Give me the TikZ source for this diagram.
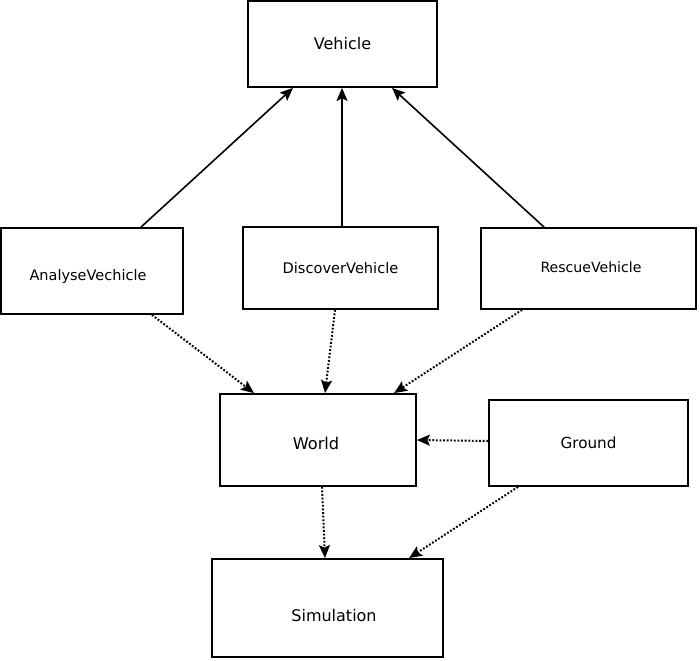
\documentclass[tikz,border=0pt]{standalone}
\usepackage{fontspec}
\setmainfont{DejaVu Sans}
\usetikzlibrary{arrows.meta, calc}

\begin{document}
\begin{tikzpicture}[
  x=1pt, y=-1pt,
  box/.style={
    rectangle,
    draw,
    line width=1.8pt,
    inner sep=0pt,
    font=\fontsize{16}{19}\selectfont,
  },
  inherit/.style={line width=1.6pt, -{Stealth[length=13pt,width=11pt,inset=2.5pt]}},
  uses/.style={line width=2pt, dash pattern=on 1.8pt off 1.8pt,
    -{Stealth[length=13pt,width=11pt,inset=2.5pt]}},
]
\useasboundingbox (0,0) rectangle (700,660);

% --- classes ---
\node[box, minimum width=189pt, minimum height=86pt] (Vehicle) at (342.5,44) {Vehicle};
\node[box, minimum width=182pt, minimum height=86pt] (Analyse) at (92,271) {};
\node[font=\fontsize{14.5}{17}\selectfont] (AnalyseText) at (88,276) {AnalyseVechicle};
\node[box, minimum width=195pt, minimum height=82pt, font=\fontsize{14.6}{17}\selectfont]
  (Discover) at (340.5,268) {DiscoverVehicle};
\node[box, minimum width=215pt, minimum height=81pt] (Rescue) at (588.5,268.5) {};
\node[font=\fontsize{14.1}{17}\selectfont] (RescueText) at (591,267) {RescueVehicle};
\node[box, minimum width=196pt, minimum height=92pt] (World) at (318,440) {};
\node[font=\fontsize{16.2}{19}\selectfont] (WorldText) at (316,443) {World};
\node[box, minimum width=199pt, minimum height=86pt, font=\fontsize{15.2}{18}\selectfont]
  (Ground) at (588.5,443) {Ground};
\node[box, minimum width=231pt, minimum height=98pt] (Simulation) at (327.5,608) {};
\node[font=\fontsize{16}{19}\selectfont] (SimulationText) at (334,616) {Simulation};

% --- generalisation ---
\draw[inherit] ([xshift=49pt]Analyse.north) -- ([xshift=-49.5pt]Vehicle.south);
\draw[inherit] ([xshift=1.5pt]Discover.north) -- ([xshift=-0.5pt]Vehicle.south);
\draw[inherit] ([xshift=-44.5pt]Rescue.north) -- ([xshift=49.5pt]Vehicle.south);

% --- dependencies ---
\draw[uses] ([xshift=60pt]Analyse.south) -- ([xshift=-64pt]World.north);
\draw[uses] ([xshift=-5.5pt]Discover.south) -- ([xshift=7pt]World.north);
\draw[uses] ([xshift=-66.5pt]Rescue.south) -- ([xshift=76pt]World.north);
\draw[uses] ([yshift=2pt]Ground.west) -- (World.east);
\draw[uses] ([xshift=4pt]World.south) -- ([xshift=-2.5pt]Simulation.north);
\draw[uses] ([xshift=-70.5pt]Ground.south) -- ([xshift=81.5pt]Simulation.north);
\end{tikzpicture}
\end{document}
